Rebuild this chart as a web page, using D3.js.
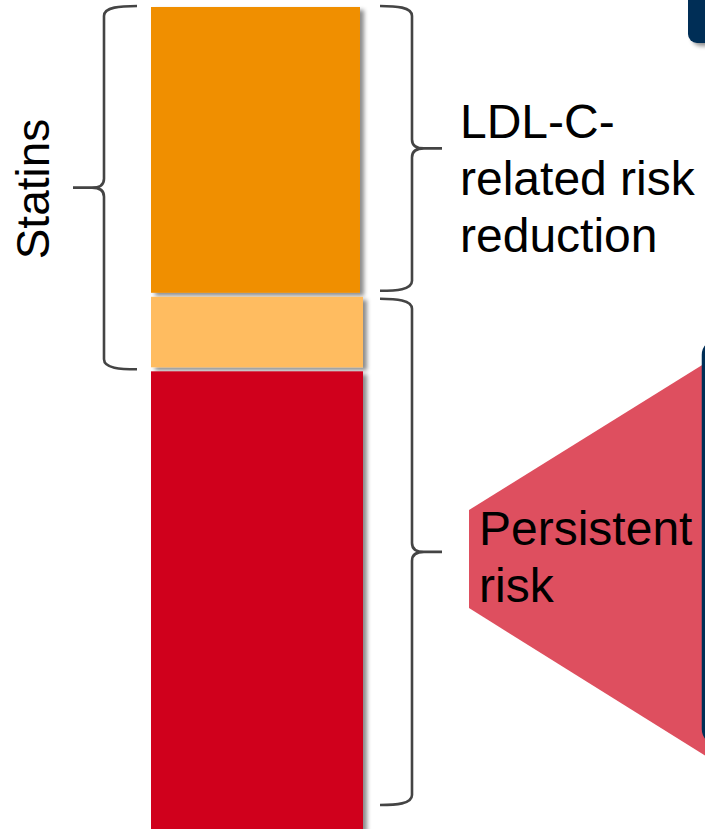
<!DOCTYPE html>
<html>
<head>
<meta charset="utf-8">
<script src="https://cdn.jsdelivr.net/npm/d3@7"></script>
<style>
  html, body { margin: 0; padding: 0; background: #fff; overflow: hidden; }
  svg { display: block; font-family: "Liberation Sans", Arial, sans-serif; }
</style>
</head>
<body>
<svg id="chart" width="705" height="829"></svg>
<script>
// Stacked risk bar: statin-driven LDL-C risk reduction vs. persistent risk
const barCategory = ["Cardiovascular risk"];
const segmentNames = ["LDL-C-related risk reduction", "Statin overlap", "Persistent risk"];
const segmentValues = [35, 9, 56];
const segmentColors = ["#F08F00", "#FFBC60", "#D0011B"];

// Braces group consecutive segments (index ranges, inclusive)
const braceNames = ["Statins", "LDL-C-related risk reduction", "Persistent risk"];
const braceFrom = [0, 0, 1];
const braceTo = [1, 0, 2];
const braceSide = ["left", "right", "right"];
const braceLines = [["Statins"], ["LDL-C-", "related risk", "reduction"], ["Persistent", "risk"]];

const svg = d3.select("#chart");

const defs = svg.append("defs");
const shadow = defs.append("filter").attr("id", "shadow")
  .attr("x", "-10%").attr("y", "-10%").attr("width", "130%").attr("height", "130%");
shadow.append("feDropShadow").attr("dx", 4).attr("dy", 3)
  .attr("stdDeviation", 2).attr("flood-color", "#000").attr("flood-opacity", 0.45);

const total = d3.sum(segmentValues);
const y = d3.scaleLinear().domain([0, total]).range([7, 835]);
const x = d3.scaleBand().domain(barCategory).range([151, 363]).padding(0);

const stacked = segmentValues.map((v, i) => {
  const start = d3.sum(segmentValues.slice(0, i));
  return { name: segmentNames[i], value: v, start, end: start + v, color: segmentColors[i], i };
});

const gap = 4;
svg.append("g").selectAll("rect").data(stacked).join("rect")
  .attr("x", x(barCategory[0]))
  .attr("y", d => y(d.start))
  .attr("width", d => x.bandwidth() - (d.i === 0 ? 3 : 0))
  .attr("height", d => y(d.end) - y(d.start) - (d.i < stacked.length - 1 ? gap : 0))
  .attr("fill", d => d.color)
  .attr("filter", "url(#shadow)");

// Curly brace path, vertical, tip pointing away from the bar
function bracePath(xEnd, xLine, xTip, ya, yb) {
  const ym = (ya + yb) / 2;
  const s = Math.sign(xTip - xLine);
  return [
    `M${xEnd},${ya}`,
    `C${(xEnd + xLine) / 2},${ya} ${xLine},${ya + 1} ${xLine},${ya + 10}`,
    `L${xLine},${ym - 9}`,
    `Q${xLine},${ym} ${xLine + s * 12},${ym}`,
    `L${xTip},${ym}`,
    `M${xLine + s * 12},${ym}`,
    `Q${xLine},${ym} ${xLine},${ym + 9}`,
    `L${xLine},${yb - 10}`,
    `C${xLine},${yb - 1} ${(xEnd + xLine) / 2},${yb} ${xEnd},${yb}`
  ].join(" ");
}

const braceG = svg.append("g").attr("fill", "none").attr("stroke", "#444")
  .attr("stroke-width", 2.6).attr("stroke-linecap", "butt");

braceNames.forEach((name, k) => {
  const a = stacked[braceFrom[k]], b = stacked[braceTo[k]];
  const ya = y(a.start) + (braceFrom[k] === 0 ? -1 : 2);
  const yb = braceTo[k] === stacked.length - 1 ? y(total) - 30 : y(b.end) - (braceSide[k] === "left" ? 2 : 6);
  if (braceSide[k] === "left") {
    braceG.append("path").attr("d", bracePath(137, 104, 73, ya, yb));
  } else {
    braceG.append("path").attr("d", bracePath(380, 412, 442, ya, yb));
  }
});

// Persistent-risk callout wedge and framed panel at the right edge
const wedge = [[469, 510], [720, 354], [720, 765], [469, 608]];
svg.append("path")
  .attr("d", d3.line()(wedge) + "Z")
  .attr("fill", "#DE4F5F");

svg.append("rect")
  .attr("x", 703.5).attr("y", 341).attr("width", 60).attr("height", 402)
  .attr("rx", 14).attr("fill", "none")
  .attr("stroke", "#062F57").attr("stroke-width", 3.5)
  .attr("filter", "url(#shadow)");

svg.append("rect")
  .attr("x", 688).attr("y", -20).attr("width", 60).attr("height", 63)
  .attr("rx", 9).attr("fill", "#062F57")
  .attr("filter", "url(#shadow)");

// Labels
const fs = 48;
svg.append("text")
  .attr("transform", "translate(49,189) rotate(-90)")
  .attr("text-anchor", "middle")
  .attr("font-size", fs - 2)
  .attr("fill", "#000")
  .text(braceLines[0][0]);

const ldl = svg.append("text").attr("font-size", fs).attr("fill", "#000");
braceLines[1].forEach((t, i) => {
  ldl.append("tspan").attr("x", 460).attr("y", 138 + i * 57).text(t);
});

const pers = svg.append("text").attr("font-size", fs).attr("fill", "#000");
braceLines[2].forEach((t, i) => {
  pers.append("tspan").attr("x", 479).attr("y", 545 + i * 57).text(t);
});
</script>
</body>
</html>
